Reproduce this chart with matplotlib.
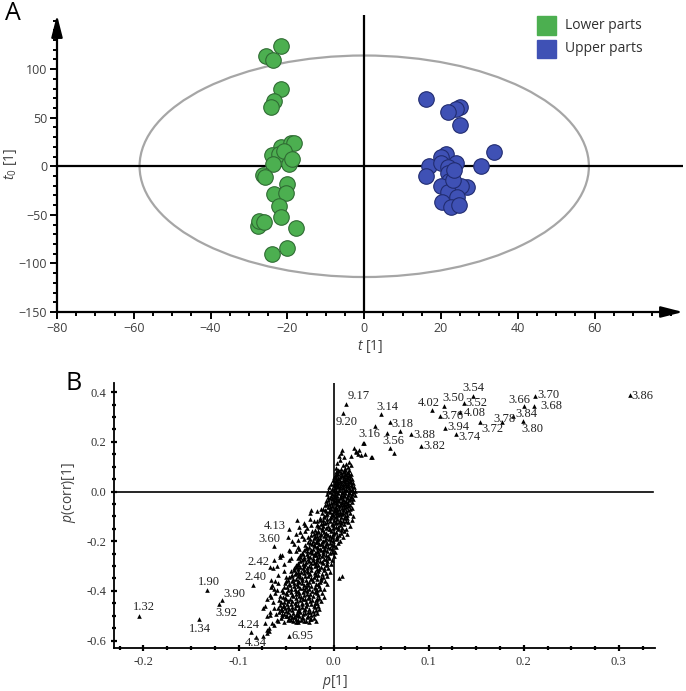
import numpy as np
import matplotlib.pyplot as plt
from matplotlib.patches import Ellipse, Rectangle
from matplotlib.ticker import MultipleLocator

plt.rcParams['mathtext.fontset'] = 'custom'
plt.rcParams['mathtext.rm'] = 'Open Sans'
plt.rcParams['mathtext.it'] = 'Open Sans:italic'

# ── Data: panel A (score plot) ──────────────────────────────────────────────
lower_t1 = [-21.7, -25.6, -23.8, -21.7, -23.5, -24.4, -21.6, -19.0, -18.3, -23.9,
            -22.2, -20.8, -19.7, -18.8, -23.7, -26.3, -25.8, -20.2, -23.5, -20.4,
            -22.2, -21.7, -27.7, -27.3, -26.0, -17.8, -20.0, -23.9]
lower_t0 = [124, 114, 109, 80, 67, 60.5, 20, 24, 24, 12,
            12.7, 16, 2.7, 7, 2.5, -8.6, -11, -18, -29, -28,
            -41, -52.5, -61, -56, -57, -64, -84, -90]

upper_t1 = [16.0, 25.0, 23.8, 21.8, 24.9, 33.7, 30.3, 16.8, 16.0, 21.4,
            19.9, 23.8, 20.0, 21.8, 21.7, 22.0, 20.0, 23.3, 26.8, 25.2,
            21.7, 24.2, 20.3, 22.5, 24.6, 23.0, 23.3]
upper_t0 = [69.5, 61.5, 59, 55.7, 42, 14.4, 0.7, 0.7, -10.3, 12.8,
            9.3, 3, 3, -1, -7, -14.7, -20, -20, -21.6, -20,
            -26.8, -32, -37, -42, -39.5, -14, -4]

ellipse_a = 58.5
ellipse_b = 114

# ── Data: panel B (S-plot) ──────────────────────────────────────────────────
cloud = [
    (0.009, 0.168), (0.008, 0.155), (0.006, 0.143), (0.011, 0.138), (0.021, 0.176),
    (0.023, 0.162), (0.026, 0.150), (0.031, 0.196), (0.039, 0.141), (0.029, 0.147),
    (0.033, 0.150), (0.016, 0.120), (0.013, 0.112), (0.010, 0.105), (0.018, 0.108),
    (0.007, 0.125), (0.004, 0.116), (0.015, 0.098), (0.012, 0.093), (0.043, 0.262),
    (0.070, 0.244), (0.032, 0.195), (0.040, 0.140), (0.063, 0.155), (0.027, 0.167),
    (0.024, 0.160), (0.018, 0.143),
    (0.003, 0.095), (0.008, 0.090), (0.012, 0.087), (0.016, 0.085), (0.006, 0.082),
    (0.010, 0.079), (0.014, 0.076), (0.002, 0.078), (0.018, 0.072), (0.005, 0.071),
    (0.009, 0.068), (0.013, 0.066), (0.001, 0.064), (0.017, 0.062), (0.007, 0.060),
    (0.011, 0.057), (0.015, 0.055), (0.003, 0.054), (0.019, 0.052), (0.006, 0.050),
    (0.010, 0.048), (0.014, 0.046), (-0.001, 0.047), (0.017, 0.043), (0.004, 0.042),
    (0.008, 0.040), (0.012, 0.038), (0.001, 0.036), (0.020, 0.035), (0.005, 0.033),
    (0.015, 0.031), (-0.003, 0.030), (0.010, 0.028), (0.018, 0.026), (0.002, 0.025),
    (0.007, 0.022), (0.013, 0.021), (-0.005, 0.020), (0.021, 0.018), (0.004, 0.017),
    (0.016, 0.015), (0.010, 0.013), (-0.002, 0.012), (0.000, 0.008), (0.019, 0.009),
    (0.006, 0.007), (0.013, 0.005), (-0.006, 0.004), (0.022, 0.003), (0.003, 0.002),
    (0.009, 0.000), (0.016, -0.001),
    (-0.004, -0.003), (0.005, -0.005), (0.012, -0.006), (0.019, -0.008), (-0.007, -0.009),
    (0.001, -0.011), (0.008, -0.012), (0.015, -0.013), (0.022, -0.015), (-0.003, -0.016),
    (0.004, -0.018), (0.011, -0.019), (0.018, -0.021), (-0.006, -0.023), (0.000, -0.024),
    (0.007, -0.026), (0.014, -0.027), (0.020, -0.029), (-0.002, -0.031), (0.003, -0.033),
    (0.010, -0.034), (0.016, -0.036), (-0.008, -0.037), (0.006, -0.039), (0.012, -0.041),
    (-0.001, -0.042), (0.019, -0.043), (0.002, -0.046), (0.008, -0.047), (0.014, -0.049),
    (-0.005, -0.050),
    (0.004, -0.052), (0.011, -0.054), (-0.009, -0.055), (0.017, -0.056), (-0.002, -0.058),
    (0.006, -0.060), (0.013, -0.062), (-0.006, -0.063), (0.001, -0.065), (0.009, -0.067),
    (0.019, -0.068), (-0.011, -0.069), (-0.003, -0.071), (0.004, -0.073), (0.015, -0.074),
    (0.010, -0.076), (-0.008, -0.077), (0.000, -0.079), (0.007, -0.081), (0.013, -0.083),
    (-0.004, -0.084), (-0.012, -0.086), (0.003, -0.087), (0.017, -0.088), (0.009, -0.090),
    (-0.007, -0.092), (-0.001, -0.093), (0.005, -0.095), (0.012, -0.097), (-0.010, -0.098),
    (0.020, -0.099), (-0.024, -0.075), (-0.017, -0.078), (-0.013, -0.072), (-0.0245, -0.087),
    (-0.003, -0.101), (0.002, -0.103), (0.008, -0.104), (-0.014, -0.106), (0.014, -0.107),
    (-0.007, -0.109), (0.004, -0.111), (0.019, -0.113), (-0.011, -0.114), (0.000, -0.116),
    (0.010, -0.117), (-0.017, -0.119), (-0.004, -0.120), (0.006, -0.122), (0.015, -0.124),
    (-0.009, -0.125), (0.002, -0.127), (-0.013, -0.129), (0.011, -0.130), (-0.002, -0.132),
    (-0.018, -0.133), (0.007, -0.135), (-0.006, -0.137), (0.017, -0.138), (-0.011, -0.140),
    (0.003, -0.141), (-0.015, -0.143), (-0.001, -0.145), (0.009, -0.146), (-0.008, -0.148),
    (0.013, -0.150), (-0.004, -0.149), (-0.025, -0.112), (-0.021, -0.118), (-0.031, -0.128),
    (-0.024, -0.135), (-0.028, -0.145), (-0.036, -0.142), (-0.0385, -0.114), (-0.030, -0.134),
    (0.005, -0.152), (-0.020, -0.153), (-0.012, -0.155), (0.011, -0.157), (-0.003, -0.158),
    (-0.023, -0.160), (-0.016, -0.162), (0.002, -0.163), (-0.008, -0.165), (0.008, -0.167),
    (-0.019, -0.168), (-0.001, -0.170), (-0.013, -0.172), (0.014, -0.173), (-0.024, -0.175),
    (-0.006, -0.176), (0.004, -0.178), (-0.017, -0.180), (-0.010, -0.181), (-0.002, -0.183),
    (0.010, -0.185), (-0.021, -0.186), (-0.014, -0.188), (-0.005, -0.190), (0.002, -0.191),
    (-0.025, -0.193), (-0.009, -0.195), (-0.018, -0.197), (0.007, -0.198), (-0.001, -0.200),
    (-0.035, -0.161), (-0.040, -0.170), (-0.030, -0.158), (-0.033, -0.178), (-0.044, -0.200),
    (-0.038, -0.195), (-0.031, -0.190), (-0.027, -0.182), (-0.048, -0.185),
    (-0.012, -0.202), (-0.027, -0.204), (-0.019, -0.205), (-0.004, -0.207), (0.005, -0.208),
    (-0.023, -0.210), (-0.008, -0.212), (-0.015, -0.213), (-0.030, -0.215), (0.000, -0.216),
    (-0.011, -0.218), (-0.020, -0.220), (-0.026, -0.222), (-0.006, -0.223), (0.003, -0.225),
    (-0.016, -0.226), (-0.029, -0.228), (-0.010, -0.230), (-0.022, -0.231), (-0.002, -0.233),
    (-0.013, -0.235), (-0.031, -0.236), (-0.018, -0.238), (-0.007, -0.240), (0.001, -0.242),
    (-0.025, -0.243), (-0.011, -0.245), (-0.020, -0.247), (-0.033, -0.248), (-0.004, -0.249),
    (-0.042, -0.210), (-0.037, -0.222), (-0.047, -0.235), (-0.040, -0.240), (-0.036, -0.232),
    (-0.045, -0.267), (-0.054, -0.255), (-0.056, -0.262), (-0.046, -0.241), (-0.056, -0.255),
    (-0.015, -0.251), (-0.028, -0.253), (-0.008, -0.254), (-0.035, -0.256), (-0.021, -0.257),
    (0.000, -0.259), (-0.012, -0.261), (-0.031, -0.262), (-0.025, -0.264), (-0.005, -0.266),
    (-0.018, -0.267), (-0.038, -0.269), (-0.010, -0.271), (-0.027, -0.272), (-0.002, -0.274),
    (-0.022, -0.276), (-0.033, -0.277), (-0.014, -0.279), (-0.007, -0.281), (-0.029, -0.282),
    (-0.019, -0.284), (-0.037, -0.286), (-0.011, -0.287), (-0.024, -0.289), (-0.003, -0.291),
    (-0.032, -0.292), (-0.016, -0.294), (-0.040, -0.296), (-0.008, -0.297), (-0.026, -0.299),
    (-0.047, -0.275), (-0.052, -0.290), (-0.060, -0.300), (-0.064, -0.309), (-0.063, -0.275),
    (-0.020, -0.301), (-0.035, -0.303), (-0.013, -0.304), (-0.042, -0.306), (-0.028, -0.307),
    (-0.006, -0.309), (-0.018, -0.311), (-0.038, -0.312), (-0.031, -0.314), (-0.010, -0.316),
    (-0.024, -0.317), (-0.045, -0.319), (-0.016, -0.321), (-0.034, -0.322), (-0.004, -0.324),
    (-0.027, -0.326), (-0.040, -0.327), (-0.020, -0.329), (-0.012, -0.331), (-0.036, -0.332),
    (-0.025, -0.334), (-0.044, -0.336), (-0.016, -0.337), (-0.030, -0.339), (-0.007, -0.341),
    (-0.038, -0.342), (-0.021, -0.344), (-0.047, -0.346), (-0.013, -0.347), (-0.033, -0.349),
    (-0.052, -0.320), (-0.058, -0.335), (-0.050, -0.345), (0.006, -0.349), (0.009, -0.342),
    (-0.066, -0.355), (-0.062, -0.360),
    (-0.024, -0.351), (-0.040, -0.353), (-0.017, -0.354), (-0.048, -0.356), (-0.033, -0.357),
    (-0.009, -0.359), (-0.022, -0.361), (-0.044, -0.362), (-0.036, -0.364), (-0.014, -0.366),
    (-0.028, -0.367), (-0.051, -0.369), (-0.019, -0.371), (-0.039, -0.372), (-0.007, -0.374),
    (-0.031, -0.376), (-0.046, -0.377), (-0.024, -0.379), (-0.015, -0.381), (-0.042, -0.382),
    (-0.029, -0.384), (-0.052, -0.386), (-0.020, -0.387), (-0.035, -0.389), (-0.010, -0.391),
    (-0.045, -0.392), (-0.026, -0.394), (-0.054, -0.396), (-0.017, -0.397), (-0.038, -0.399),
    (-0.058, -0.370), (-0.066, -0.385), (-0.063, -0.393), (-0.060, -0.395), (-0.065, -0.375),
    (-0.028, -0.401), (-0.045, -0.403), (-0.020, -0.404), (-0.053, -0.406), (-0.036, -0.407),
    (-0.012, -0.409), (-0.025, -0.411), (-0.049, -0.412), (-0.040, -0.414), (-0.016, -0.416),
    (-0.031, -0.417), (-0.056, -0.419), (-0.022, -0.421), (-0.043, -0.422), (-0.010, -0.424),
    (-0.034, -0.426), (-0.051, -0.427), (-0.027, -0.429), (-0.018, -0.431), (-0.046, -0.432),
    (-0.032, -0.434), (-0.057, -0.436), (-0.023, -0.437), (-0.039, -0.439), (-0.013, -0.441),
    (-0.048, -0.442), (-0.029, -0.444), (-0.055, -0.446), (-0.020, -0.447), (-0.041, -0.449),
    (-0.062, -0.410), (-0.066, -0.425), (-0.064, -0.445), (-0.070, -0.433), (-0.067, -0.416),
    (-0.033, -0.451), (-0.049, -0.453), (-0.024, -0.454), (-0.056, -0.456), (-0.040, -0.457),
    (-0.016, -0.459), (-0.029, -0.461), (-0.052, -0.462), (-0.044, -0.464), (-0.020, -0.466),
    (-0.036, -0.467), (-0.058, -0.469), (-0.026, -0.471), (-0.047, -0.472), (-0.015, -0.474),
    (-0.038, -0.476), (-0.054, -0.477), (-0.031, -0.479), (-0.022, -0.481), (-0.050, -0.482),
    (-0.035, -0.484), (-0.057, -0.486), (-0.027, -0.487), (-0.043, -0.489), (-0.018, -0.491),
    (-0.052, -0.492), (-0.032, -0.494), (-0.040, -0.496), (-0.024, -0.497), (-0.046, -0.499),
    (-0.063, -0.470), (-0.067, -0.485), (-0.061, -0.495), (-0.072, -0.462), (-0.074, -0.469),
    (-0.036, -0.501), (-0.050, -0.503), (-0.028, -0.504), (-0.044, -0.506), (-0.021, -0.508),
    (-0.055, -0.509), (-0.032, -0.511), (-0.040, -0.513), (-0.025, -0.515), (-0.048, -0.516),
    (-0.034, -0.518), (-0.019, -0.520), (-0.043, -0.521), (-0.029, -0.523), (-0.052, -0.524),
    (-0.038, -0.527),
    (-0.070, -0.503), (-0.063, -0.536), (-0.070, -0.557), (-0.074, -0.583), (-0.060, -0.516),
    (-0.054, -0.503), (-0.051, -0.468), (-0.067, -0.496), (-0.058, -0.523), (-0.068, -0.550),
    (-0.070, -0.570), (-0.072, -0.529), (-0.068, -0.563), (-0.054, -0.476), (-0.065, -0.530),
]

# extra points filling the dense core of the S-shaped band
core = [
    (0.005, 0.088), (0.011, 0.084), (0.015, 0.080), (0.004, 0.075), (0.008, 0.073),
    (0.012, 0.070), (0.016, 0.068), (0.003, 0.067), (0.009, 0.063), (0.014, 0.059),
    (0.000, 0.058), (0.005, 0.056), (0.012, 0.052), (0.017, 0.049), (0.002, 0.045),
    (0.007, 0.044), (0.011, 0.041), (0.015, 0.039), (0.018, 0.037), (0.004, 0.035),
    (0.008, 0.032), (0.012, 0.030), (0.000, 0.027), (0.015, 0.024), (0.005, 0.023),
    (0.010, 0.019), (0.019, 0.021), (0.001, 0.015), (0.007, 0.013), (0.013, 0.010),
    (0.017, 0.006), (0.003, 0.004), (0.011, 0.002), (0.020, 0.000),
    (0.002, -0.002), (0.009, -0.004), (0.016, -0.007), (-0.002, -0.010), (0.011, -0.014),
    (0.018, -0.017), (0.001, -0.019), (0.008, -0.021), (0.014, -0.023), (-0.004, -0.026),
    (0.003, -0.028), (0.010, -0.030), (0.017, -0.032), (-0.006, -0.034), (0.005, -0.036),
    (0.013, -0.038), (0.000, -0.040), (0.009, -0.043), (0.015, -0.045), (-0.003, -0.047),
    (0.004, -0.049), (0.011, -0.051), (-0.007, -0.052), (0.008, -0.055), (0.015, -0.058),
    (0.002, -0.061), (-0.004, -0.064), (0.011, -0.065), (0.006, -0.069), (0.017, -0.071),
    (-0.009, -0.073), (0.001, -0.075), (0.013, -0.078), (-0.005, -0.080), (0.004, -0.083),
    (0.010, -0.085), (-0.002, -0.089), (0.007, -0.092), (0.014, -0.094), (-0.008, -0.096),
    (0.002, -0.098),
    (-0.010, -0.102), (0.011, -0.105), (-0.004, -0.108), (0.007, -0.113), (-0.014, -0.116),
    (0.013, -0.119), (-0.007, -0.122), (0.003, -0.124), (-0.011, -0.127), (0.008, -0.128),
    (-0.001, -0.136), (-0.016, -0.138), (0.005, -0.144), (-0.012, -0.146), (-0.005, -0.152),
    (0.008, -0.154), (-0.016, -0.157), (-0.010, -0.161), (0.000, -0.166), (-0.021, -0.171),
    (-0.008, -0.172), (0.006, -0.174), (-0.014, -0.177), (-0.004, -0.180), (-0.020, -0.183),
    (-0.008, -0.187), (0.004, -0.188), (-0.016, -0.192), (-0.003, -0.194), (-0.022, -0.199),
    (-0.011, -0.199), (-0.017, -0.203), (-0.007, -0.206), (-0.025, -0.208), (-0.013, -0.211),
    (-0.002, -0.214), (-0.021, -0.217), (-0.009, -0.221), (-0.017, -0.224), (-0.028, -0.226),
    (-0.004, -0.228), (-0.014, -0.232), (-0.024, -0.235), (-0.009, -0.237), (-0.028, -0.240),
    (-0.016, -0.242), (-0.002, -0.245), (-0.023, -0.247), (-0.011, -0.250), (-0.032, -0.252),
    (-0.019, -0.255), (-0.006, -0.258), (-0.027, -0.260), (-0.015, -0.263), (-0.035, -0.265),
    (-0.022, -0.268), (-0.008, -0.270), (-0.031, -0.273), (-0.018, -0.275), (-0.026, -0.279),
    (-0.012, -0.283), (-0.035, -0.281), (-0.021, -0.287), (-0.030, -0.290), (-0.007, -0.292),
    (-0.037, -0.294), (-0.019, -0.297), (-0.031, -0.298),
    (-0.024, -0.303), (-0.040, -0.304), (-0.010, -0.306), (-0.032, -0.309), (-0.015, -0.313),
    (-0.042, -0.316), (-0.028, -0.319), (-0.020, -0.323), (-0.037, -0.325), (-0.008, -0.328),
    (-0.031, -0.330), (-0.041, -0.334), (-0.019, -0.336), (-0.027, -0.340), (-0.045, -0.341),
    (-0.011, -0.343), (-0.035, -0.346), (-0.024, -0.349), (-0.043, -0.352), (-0.029, -0.355),
    (-0.013, -0.357), (-0.038, -0.359), (-0.050, -0.361), (-0.026, -0.363), (-0.033, -0.368),
    (-0.042, -0.370), (-0.016, -0.373), (-0.047, -0.374), (-0.027, -0.376), (-0.037, -0.379),
    (-0.020, -0.383), (-0.049, -0.384), (-0.032, -0.387), (-0.041, -0.391), (-0.014, -0.393),
    (-0.030, -0.396), (-0.048, -0.398), (-0.023, -0.399), (-0.040, -0.402), (-0.032, -0.405),
    (-0.017, -0.407), (-0.050, -0.409), (-0.028, -0.413), (-0.044, -0.416), (-0.036, -0.419),
    (-0.026, -0.423), (-0.053, -0.424), (-0.015, -0.427), (-0.040, -0.428), (-0.030, -0.431),
    (-0.050, -0.434), (-0.019, -0.435), (-0.035, -0.438), (-0.044, -0.440), (-0.025, -0.442),
    (-0.052, -0.444), (-0.033, -0.447), (-0.017, -0.449), (-0.045, -0.451), (-0.028, -0.452),
    (-0.038, -0.455), (-0.053, -0.459), (-0.021, -0.460), (-0.033, -0.463), (-0.048, -0.466),
    (-0.041, -0.470), (-0.030, -0.473), (-0.055, -0.474), (-0.019, -0.477), (-0.044, -0.479),
    (-0.036, -0.481), (-0.025, -0.484), (-0.048, -0.486), (-0.039, -0.490), (-0.030, -0.491),
    (-0.054, -0.495), (-0.021, -0.494), (-0.037, -0.498), (-0.049, -0.500), (-0.027, -0.500),
    (-0.042, -0.505), (-0.033, -0.507), (-0.047, -0.511), (-0.024, -0.512), (-0.037, -0.516),
    (-0.045, -0.519), (-0.031, -0.520), (-0.040, -0.524), (-0.026, -0.525),
]
cloud_x = [p[0] for p in cloud] + [p[0] for p in core]
cloud_y = [p[1] for p in cloud] + [p[1] for p in core]

label_names = ["9.17", "9.20", "3.14", "3.18", "3.16", "3.56", "3.88", "3.82", "4.02",
               "3.50", "3.54", "3.52", "3.76", "4.08", "3.94", "3.74", "3.72", "3.78",
               "3.84", "3.66", "3.70", "3.68", "3.80", "3.86", "4.13", "3.60", "2.42",
               "2.40", "1.90", "3.90", "1.32", "3.92", "1.34", "4.24", "4.34", "6.95"]
label_x = [0.0134, 0.0099, 0.0501, 0.0590, 0.0562, 0.0590, 0.0815, 0.0923, 0.1036,
           0.1158, 0.1467, 0.1369, 0.1116, 0.1334, 0.1176, 0.1292, 0.1537, 0.1775,
           0.1886, 0.1999, 0.2123, 0.2112, 0.1994, 0.3116, -0.0473, -0.0632, -0.0672,
           -0.0848, -0.1333, -0.1175, -0.2052, -0.1210, -0.1411, -0.0869, -0.0814, -0.0466]
label_y = [0.352, 0.318, 0.311, 0.278, 0.237, 0.175, 0.231, 0.185, 0.329,
           0.345, 0.386, 0.358, 0.305, 0.322, 0.255, 0.232, 0.278, 0.278,
           0.305, 0.345, 0.385, 0.345, 0.284, 0.389, -0.151, -0.219, -0.305,
           -0.375, -0.396, -0.436, -0.500, -0.452, -0.514, -0.566, -0.584, -0.581]

# text offsets (points) of each label, left edge / vertical centre
label_dx = [0.7, -5.5, -3.4, 1.5, -20.6, -5.0, 1.7, 1.4, -10.6,
            -0.9, -7.7, 1.2, 1.5, 2.5, 1.4, 1.4, 0.8, -6.5,
            1.8, -11.0, 1.4, 4.3, -1.2, 0.8, -18.2, -11.0, -16.2,
            -6.3, -6.3, 0.9, -3.8, -2.4, -7.4, -9.8, -8.6, 1.5]
label_dy = [6.0, -6.7, 5.3, -0.8, -1.0, 5.3, -0.5, -0.2, 5.0,
            5.8, 5.5, -0.2, -0.4, -1.3, 0.9, -2.2, -4.5, 2.5,
            1.4, 4.3, 0.7, 0.0, -6.1, -0.7, 1.9, 4.8, 3.7,
            5.5, 5.5, 4.1, 6.0, -6.7, -7.0, 5.3, -4.8, 0.0]

# ── Figure ──────────────────────────────────────────────────────────────────
fig = plt.figure(figsize=(6.86, 6.91), dpi=100)
W, H = 686, 691


def px_axes(l, t, r, b):
    return fig.add_axes([l / W, 1 - b / H, (r - l) / W, (b - t) / H])


# Panel A
axA = px_axes(57, 15, 683, 312)
axA.set_xlim(-79.5, 83.0)
axA.set_ylim(-150, 155.7)
for s in axA.spines.values():
    s.set_visible(False)

axA.add_patch(Ellipse((0, 0), 2 * ellipse_a, 2 * ellipse_b, fill=False,
                      edgecolor="#a6a6a6", linewidth=1.6, zorder=1))
axA.axhline(0, color="black", linewidth=1.6, zorder=2)
axA.axvline(0, color="black", linewidth=1.6, zorder=2)

axA.scatter(lower_t1, lower_t0, s=125, color="#4caf50", edgecolor="#2f6b33",
            linewidth=0.8, zorder=3)
axA.scatter(upper_t1, upper_t0, s=125, color="#3f51b5", edgecolor="#212c70",
            linewidth=0.8, zorder=3)

# arrow axes
arrow_kw = dict(arrowstyle="-|>,head_length=1.1,head_width=0.28", color="black",
                lw=1.6, shrinkA=0, shrinkB=0, mutation_scale=12)
axA.annotate("", xy=(0, 1), xytext=(0, 0), xycoords="axes fraction",
             arrowprops=arrow_kw, annotation_clip=False)
axA.annotate("", xy=(1, 0), xytext=(0, 0), xycoords="axes fraction",
             arrowprops=arrow_kw, annotation_clip=False)

axA.set_xticks(np.arange(-80, 61, 20))
axA.set_yticks(np.arange(-150, 101, 50))
axA.xaxis.set_minor_locator(MultipleLocator(5))
axA.yaxis.set_minor_locator(MultipleLocator(10))
axA.tick_params(which="major", length=5, width=1.4, color="black",
                labelsize=9, labelcolor="#404040", pad=2)
axA.tick_params(which="minor", length=3, width=1.4, color="black")
for lab in axA.get_xticklabels() + axA.get_yticklabels():
    lab.set_family("Open Sans")

axA.set_xlabel(r"$t$ [1]", fontsize=10, color="#404040", family="Open Sans", labelpad=2)
axA.set_ylabel(r"$t_0$ [1]", fontsize=10, color="#404040", family="Open Sans", labelpad=0)

# legend
for y0, col, name in [(0.933, "#4caf50", "Lower parts"),
                      (0.855, "#3f51b5", "Upper parts")]:
    axA.add_patch(Rectangle((0.7668, y0), 0.0304, 0.062, transform=axA.transAxes,
                            facecolor=col, edgecolor=col, clip_on=False))
    axA.text(0.8115, y0 + 0.031, name, transform=axA.transAxes, fontsize=10,
             family="Open Sans", color="#303030", va="center", ha="left")

fig.text(5 / W, 1 - 13 / H, "A", fontsize=18, family="Open Sans", va="center", ha="left")

# Panel B
axB = px_axes(114, 383, 655, 648)
axB.set_xlim(-0.231, 0.338)
axB.set_ylim(-0.630, 0.437)
axB.spines["top"].set_visible(False)
axB.spines["right"].set_visible(False)
axB.spines["left"].set_linewidth(1.3)
axB.spines["bottom"].set_linewidth(1.3)

axB.plot([-0.231, 0.336], [0, 0], color="black", linewidth=1.2, zorder=1)
axB.axvline(0, color="black", linewidth=1.2, zorder=1)

axB.scatter(cloud_x, cloud_y, marker="^", s=11, color="black", linewidth=0, zorder=3)
axB.scatter(label_x, label_y, marker="^", s=11, color="black", linewidth=0, zorder=3)
for name, x, y, dx, dy in zip(label_names, label_x, label_y, label_dx, label_dy):
    axB.annotate(name, (x, y), xytext=(dx, dy), textcoords="offset points",
                 fontsize=9, family="Liberation Serif", color="#222222",
                 ha="left", va="center", zorder=4)

axB.set_xticks([-0.2, -0.1, 0.0, 0.1, 0.2, 0.3])
axB.set_xticklabels(["-0.2", "-0.1", "0.0", "0.1", "0.2", "0.3"])
axB.set_yticks([-0.6, -0.4, -0.2, 0.0, 0.2, 0.4])
axB.set_yticklabels(["-0.6", "-0.4", "-0.2", "0.0", "0.2", "0.4"])
axB.xaxis.set_minor_locator(MultipleLocator(0.025))
axB.yaxis.set_minor_locator(MultipleLocator(0.05))
axB.tick_params(which="both", direction="inout", color="black", width=1.6,
                labelsize=9, labelcolor="#333333")
axB.tick_params(which="major", length=5, pad=3)
axB.tick_params(which="minor", length=3)
for lab in axB.get_xticklabels() + axB.get_yticklabels():
    lab.set_family("Liberation Serif")

fig.text(335 / W, 1 - 682 / H, r"$p$[1]", fontsize=10, family="Open Sans",
         color="#404040", ha="center", va="center")
fig.text(69 / W, 1 - 493 / H, r"$p$(corr)[1]", fontsize=10, family="Open Sans",
         color="#404040", ha="center", va="center", rotation=90)

fig.text(66 / W, 1 - 383 / H, "B", fontsize=18, family="Open Sans", va="center", ha="left")

fig.savefig("out.png", dpi=100)
